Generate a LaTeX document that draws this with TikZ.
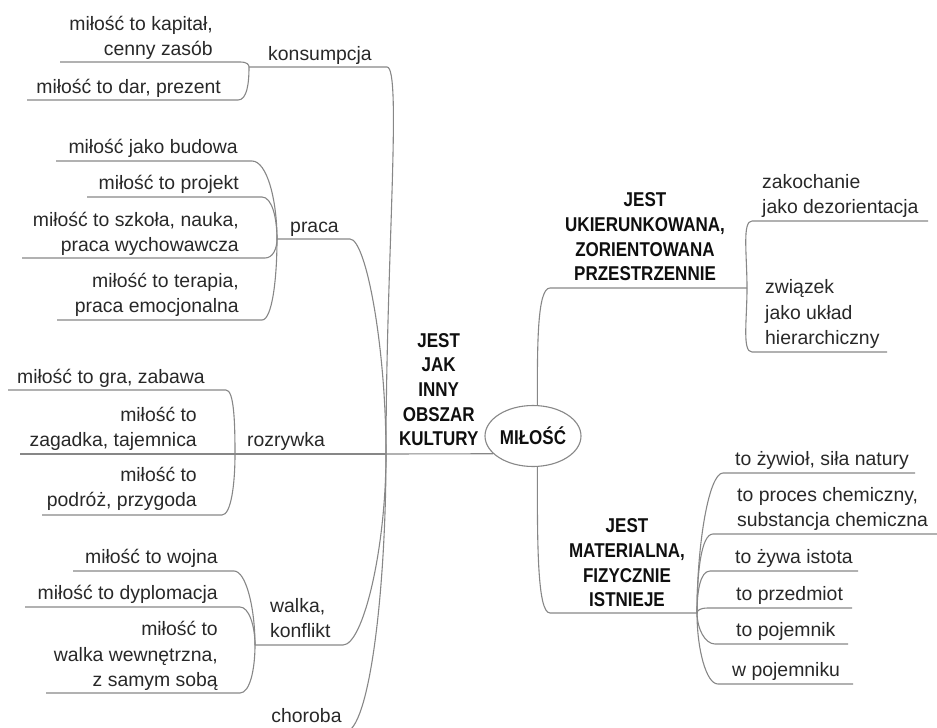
\documentclass[tikz,border=0pt]{standalone}
\usepackage{fontspec}
\usepackage{tikz}
\usetikzlibrary{shapes.geometric, calc}
\setmainfont{Liberation Sans}
\newfontfamily\narrowfont{Liberation Sans}[FakeStretch=0.85]
\definecolor{myline}{RGB}{135,135,135}
\definecolor{mytext}{RGB}{40,40,40}
\definecolor{mydark}{RGB}{15,15,15}
\tikzset{
  leaf/.style={font=\fontsize{19.4}{25.5}\selectfont, text=mytext,
    inner sep=0pt, text depth=0pt},
  leafleft/.style={leaf, align=right, anchor=south east},
  leafright/.style={leaf, align=left, anchor=south west},
  leafmid/.style={leaf, align=center, anchor=south},
  branch/.style={font=\narrowfont\bfseries\fontsize{20}{24.7}\selectfont,
    text=mydark, inner sep=0pt, text depth=0pt, align=center, anchor=south},
  hub/.style={ellipse, draw=myline, fill=white, line width=1.1pt,
    minimum width=96pt, minimum height=61pt, inner sep=0pt,
    font=\narrowfont\bfseries\fontsize{20}{24}\selectfont, text=mydark},
  twig/.style={draw=myline, line width=1.1pt},
  curl/.style={to path={.. controls ($(\tikztostart)+(#1,0)$)
    and ($(\tikztotarget)!0.5!(\tikztotarget|-\tikztostart)$) .. (\tikztotarget)}}
}

\begin{document}
\begin{tikzpicture}[x=1pt, y=-1pt]
  \useasboundingbox (0,0) rectangle (937,728);
  \clip (0,0) rectangle (937,728);

  % Centre
  \node[hub] (root) at (533,436) {MIŁOŚĆ};

  % Left side: culture
  \node[branch] (culture) at (438.7,446) {JEST\\JAK\\INNY\\OBSZAR\\KULTURY};
  \draw[twig] (root.204) -- (386,454) coordinate (cultJ);

  \node[leafmid] (consume) at (320,61) {konsumpcja};
  \draw[twig] (249,67) coordinate (consumeL) -- (387,67) coordinate (consumeR) to[curl=15] (cultJ);
  \node[leafleft] (capital) at (213,56) {miłość to kapitał,\\cenny zasób};
  \draw[twig] (60,62) -- (240,62) coordinate (capitalR) to[curl=7] (consumeL);
  \node[leafleft] (gift) at (221,93.5) {miłość to dar, prezent};
  \draw[twig] (27,100) -- (238,100) coordinate (giftR) to[curl=9] (consumeL);

  \node[leafmid] (work) at (314.5,233) {praca};
  \draw[twig] (277,239) coordinate (workL) -- (350,239) coordinate (workR) to[curl=16] (cultJ);
  \node[leafleft] (build) at (238,154) {miłość jako budowa};
  \draw[twig] (56,161) -- (252,161) coordinate (buildR) to[curl=15] (workL);
  \node[leafleft] (project) at (239,190) {miłość to projekt};
  \draw[twig] (87,197) -- (262,197) coordinate (projectR) to[curl=10] (workL);
  \node[leafleft] (school) at (239,252) {miłość to szkoła, nauka,\\praca wychowawcza};
  \draw[twig] (22,258) -- (265,258) coordinate (schoolR) to[curl=8] (workL);
  \node[leafleft] (therapy) at (239,313) {miłość to terapia,\\praca emocjonalna};
  \draw[twig] (57,320) -- (262,320) coordinate (therapyR) to[curl=10] (workL);

  \node[leafmid] (play) at (286,447) {rozrywka};
  \draw[twig] (235,454) coordinate (playL) -- (cultJ);
  \node[leafleft] (game) at (205,384) {miłość to gra, zabawa};
  \draw[twig] (8,390) -- (226,390) coordinate (gameR) to[curl=8] (playL);
  \node[leafleft] (mystery) at (197,447) {miłość to\\zagadka, tajemnica};
  \draw[twig] (20,454) coordinate (mysteryL) -- (playL);
  \node[leafleft] (travel) at (197,507) {miłość to\\podróż, przygoda};
  \draw[twig] (42,515) -- (222,515) coordinate (travelR) to[curl=9] (playL);

  \node[leafmid, align=left, anchor=south west] (fight) at (270,638) {walka,\\konflikt};
  \draw[twig] (255,645) coordinate (fightL) -- (343,645) coordinate (fightR) to[curl=20] (cultJ);
  \node[leafleft] (war) at (218,564) {miłość to wojna};
  \draw[twig] (73,571) -- (234,571) coordinate (warR) to[curl=12] (fightL);
  \node[leafleft] (diplomacy) at (218,600) {miłość to dyplomacja};
  \draw[twig] (25,607) -- (240,607) coordinate (diplomacyR) to[curl=9] (fightL);
  \node[leafleft] (inner) at (218,687) {miłość to\\walka wewnętrzna,\\z samym sobą};
  \draw[twig] (46,693) -- (240,693) coordinate (innerR) to[curl=10] (fightL);

  \node[leafmid] (ill) at (306.5,723) {choroba};
  \draw[twig] (262,732) -- (345,732) coordinate (illR) to[curl=24] (cultJ);

  % Right side: space
  \node[branch] (space) at (645,281) {JEST\\UKIERUNKOWANA,\\ZORIENTOWANA\\PRZESTRZENNIE};
  \draw[twig] (747,288) coordinate (spaceJ) -- (550,288) coordinate (spaceL) to[curl=-13] (root.82);
  \node[leafright] (daze) at (762,214) {zakochanie\\jako dezorientacja};
  \draw[twig] (928,221) -- (752,221) coordinate (dazeL) to[curl=-10] (spaceJ);
  \node[leafright] (rank) at (765,345) {związek\\jako układ\\hierarchiczny};
  \draw[twig] (887,352) -- (752,352) coordinate (rankL) to[curl=-10] (spaceJ);

  % Right side: matter
  \node[branch] (matter) at (627,607) {JEST\\MATERIALNA,\\FIZYCZNIE\\ISTNIEJE};
  \draw[twig] (697,613) coordinate (matterJ) -- (550,613) coordinate (matterL) to[curl=-13] (root.-82);
  \node[leafright] (force) at (735,466) {to żywioł, siła natury};
  \draw[twig] (915,473) -- (723,473) coordinate (forceL) to[curl=-14] (matterJ);
  \node[leafright] (chem) at (737,527) {to proces chemiczny,\\substancja chemiczna};
  \draw[twig] (937,534) -- (713,534) coordinate (chemL) to[curl=-12] (matterJ);
  \node[leafright] (being) at (735,564) {to żywa istota};
  \draw[twig] (858,571) -- (710,571) coordinate (beingL) to[curl=-10] (matterJ);
  \node[leafright] (object) at (736,601) {to przedmiot};
  \draw[twig] (852,608) -- (708,608) coordinate (objectL) to[curl=-8] (matterJ);
  \node[leafright] (vessel) at (736,637) {to pojemnik};
  \draw[twig] (848,644) -- (715,644) coordinate (vesselL) to[curl=-10] (matterJ);
  \node[leafright] (inside) at (732,677) {w pojemniku};
  \draw[twig] (853,684) -- (718,684) coordinate (insideL) to[curl=-12] (matterJ);
\end{tikzpicture}
\end{document}
